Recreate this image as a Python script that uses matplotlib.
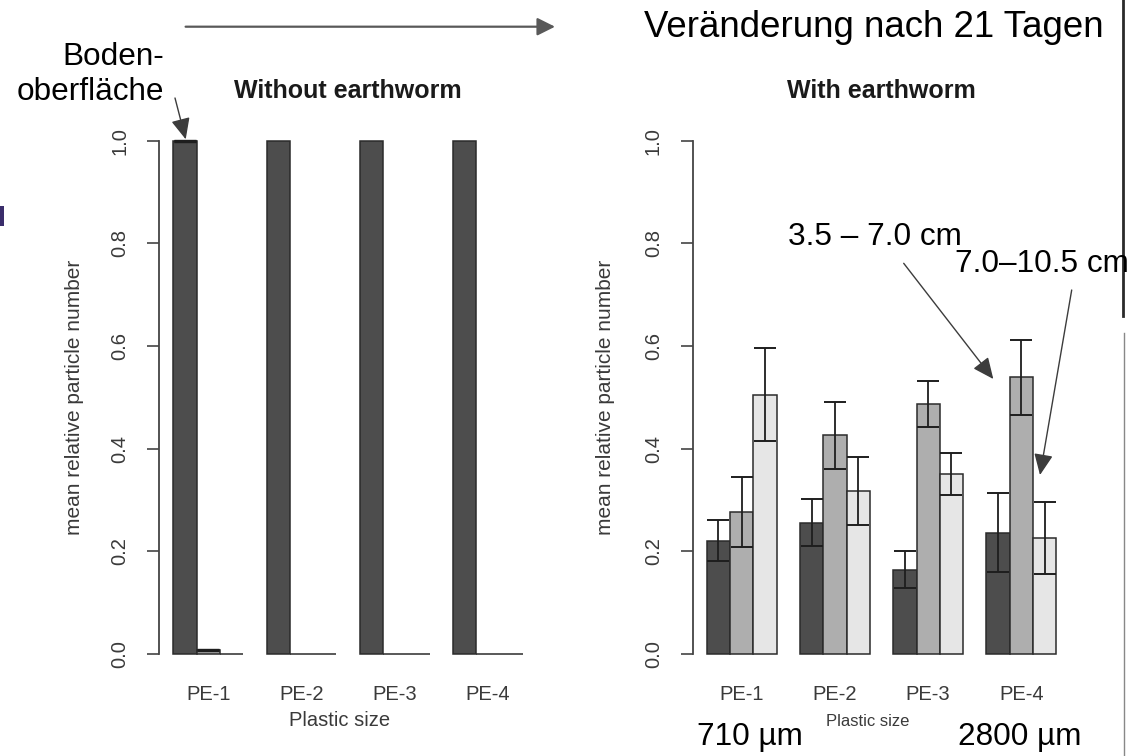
import numpy as np
import matplotlib
matplotlib.use("Agg")
import matplotlib.pyplot as plt
from matplotlib.lines import Line2D
from matplotlib.patches import Rectangle, FancyArrowPatch

plt.rcParams['font.family'] = ['Liberation Sans', 'DejaVu Sans']

# data
groups = ['PE-1', 'PE-2', 'PE-3', 'PE-4']
colors = ['#4D4D4D', '#AEAEAE', '#E6E6E6']   # R grey.colors(3): three depth layers

# without earthworm: rows = group, cols = layer
without_vals = [[1.0, 0.008, 0.0],
                [1.0, 0.0, 0.0],
                [1.0, 0.0, 0.0],
                [1.0, 0.0, 0.0]]
without_err = [[0.0, 0.0, np.nan],
               [np.nan, np.nan, np.nan],
               [np.nan, np.nan, np.nan],
               [np.nan, np.nan, np.nan]]

# with earthworm
with_vals = [[0.221, 0.276, 0.505],
             [0.256, 0.426, 0.317],
             [0.164, 0.487, 0.351],
             [0.236, 0.539, 0.226]]
with_err = [[0.040, 0.068, 0.091],
            [0.045, 0.065, 0.066],
            [0.036, 0.044, 0.041],
            [0.077, 0.073, 0.071]]

W, H = 1132, 756
fig = plt.figure(figsize=(W / 100, H / 100), dpi=100)


def px(x, y):
    # top-left pixel coords -> figure fraction
    return x / W, 1 - y / H


def draw_panel(left_px, vals, errs, title, capthick):
    x0, _ = px(left_px, 0)
    ax = fig.add_axes([x0, (H - 674.5) / H, 377.7 / W, (674.5 - 120.2) / H])
    vals = np.array(vals)
    errs = np.array(errs)
    for i in range(len(groups)):
        for j in range(3):
            xl = 1 + 4 * i + j
            ax.bar(xl, vals[i, j], width=1, align='edge', color=colors[j],
                   edgecolor='#2b2b2b', linewidth=1.1, zorder=2)
            if not np.isnan(errs[i, j]):
                ax.errorbar(xl + 0.5, vals[i, j], yerr=errs[i, j], fmt='none',
                            ecolor='#1e1e1e', elinewidth=1.3, capsize=8,
                            capthick=capthick, zorder=3)
    ax.set_xlim(0.4, 16.6)
    ax.set_ylim(-0.04, 1.04)
    for s in ['top', 'right', 'bottom']:
        ax.spines[s].set_visible(False)
    ax.spines['left'].set_bounds(0, 1)
    ax.spines['left'].set_color('#444444')
    ax.spines['left'].set_linewidth(1.3)
    ax.set_yticks([0, 0.2, 0.4, 0.6, 0.8, 1.0])
    ax.set_yticklabels(['0.0', '0.2', '0.4', '0.6', '0.8', '1.0'],
                       rotation=90, va='center')
    ax.tick_params(axis='y', length=9, width=1.2, color='#444444', pad=12.5,
                   labelsize=14.5, labelcolor='#3a3a3a')
    ax.set_xticks([1 + 4 * i + 1.5 for i in range(len(groups))])
    ax.set_xticklabels(groups)
    ax.tick_params(axis='x', length=0, pad=7.5, labelsize=14.5,
                   labelcolor='#3a3a3a')
    ax.set_title(title, fontsize=18, fontweight='bold', color='#1a1a1a', pad=16)
    ax.patch.set_alpha(0)
    return ax


ax1 = draw_panel(159.3, without_vals, without_err, 'Without earthworm', 2.3)
ax2 = draw_panel(692.7, with_vals, with_err, 'With earthworm', 1.4)

# axis labels
for xc in [74.5, 605.5]:
    fig.text(*px(xc, 397), 'mean relative particle number', rotation=90,
             ha='center', va='center', fontsize=15, color='#3a3a3a')
fig.text(*px(340, 721), 'Plastic size', ha='center', va='center',
         fontsize=14.5, color='#3a3a3a')
fig.text(*px(868, 722), 'Plastic size', ha='center', va='center',
         fontsize=12, color='#3a3a3a')

# slide overlay texts
fig.text(*px(874, 36.7), 'Veränderung nach 21 Tagen', ha='center',
         va='baseline', fontsize=26.4, color='black')
fig.text(*px(164.6, 65), 'Boden-', ha='right', va='baseline', fontsize=22.7)
fig.text(*px(164.6, 100), 'oberfläche', ha='right', va='baseline',
         fontsize=22.7)
fig.text(*px(788, 245), '3.5 – 7.0 cm', ha='left', va='baseline',
         fontsize=22.7)
fig.text(*px(954.6, 271.7), '7.0–10.5 cm', ha='left', va='baseline',
         fontsize=22.7)
fig.text(*px(697, 745), '710 µm', ha='left', va='baseline', fontsize=22.7)
fig.text(*px(1082, 745), '2800 µm', ha='right', va='baseline', fontsize=22.7)


def arrow(x1, y1, x2, y2, color='#3c3c3c', lw=1.0, hl=1.0, hw=0.45, ms=18):
    # ms in pixels (mutation scale is converted by dpi at draw time)
    fig.add_artist(FancyArrowPatch(
        (x1, H - y1), (x2, H - y2), transform=None,
        arrowstyle=f'-|>,head_length={hl},head_width={hw}',
        mutation_scale=ms * 72 / 100, color=color, lw=lw,
        shrinkA=0, shrinkB=0))


arrow(185.6, 26.7, 555, 26.7, color='#595959', lw=1.6, hl=1.0, hw=0.5, ms=15)
arrow(175, 98, 185.7, 139.3)
arrow(903.7, 263.3, 993.3, 379)
arrow(1071.7, 290, 1040, 475)

# cropped slide edges
fig.add_artist(Line2D([1123 / W, 1123 / W], [1.0, 1 - 316 / H],
                      transform=fig.transFigure, color='#2a2a2a', lw=2))
fig.add_artist(Line2D([1124 / W, 1124 / W], [1 - 333 / H, 0.0],
                      transform=fig.transFigure, color='#888888', lw=1))
fig.add_artist(Rectangle((0, 1 - 226 / H), 4 / W, 20 / H,
                         transform=fig.transFigure, color='#3a2d6b', lw=0))

fig.savefig('out.png', dpi=100)
